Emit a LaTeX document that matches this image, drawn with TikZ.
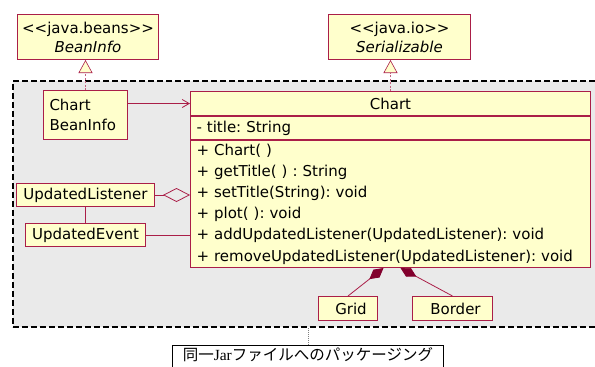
\documentclass[tikz,border=0pt]{standalone}
\usepackage{fontspec}
\newfontfamily\umlfont{DejaVu Sans}
\newfontfamily\jpfont{Noto Sans CJK JP}
\newfontfamily\jarfont{Liberation Serif}
\usetikzlibrary{arrows.meta,calc,positioning}
\frenchspacing

\definecolor{umlred}{RGB}{170,30,72}
\definecolor{umlfill}{RGB}{255,255,204}
\definecolor{umldark}{RGB}{130,0,45}
\definecolor{pkggray}{RGB}{234,234,234}

% stereotype guillemets, kept as two separate < and > signs
\newcommand{\stereo}[1]{<\kern0pt<#1>\kern0pt>}

\tikzset{
  classbox/.style={draw=umlred, line width=1pt, fill=umlfill, anchor=north west,
    inner sep=0pt, font=\umlfont\fontsize{15}{19}\selectfont},
  pkgbox/.style={draw=black, line width=1.6pt, dash pattern=on 6pt off 3pt,
    fill=pkggray, anchor=north west, inner sep=0pt},
  notebox/.style={draw=black, line width=0.8pt, fill=white, anchor=north west,
    inner xsep=6pt, inner ysep=2pt, text height=13.5pt, text depth=15pt,
    font=\jpfont\fontsize{15.5}{18}\selectfont},
  link/.style={draw=umlred, line width=0.8pt},
  realize/.style={draw=umlred!70, line width=0.6pt, dash pattern=on 2pt off 1.5pt,
    -{Triangle[length=13pt,width=14pt,fill=umlfill,color=umlred]}},
  assoc/.style={link, -{Straight Barb[length=7pt,width=8pt]}},
  aggr/.style={link, -{Diamond[length=27pt,width=14pt,open]}},
  compo/.style={link, -{Diamond[length=18pt,width=10pt,fill=umldark,color=umldark]}},
  notelink/.style={draw=gray, line width=0.5pt, dash pattern=on 1pt off 1pt}
}

\begin{document}
\begin{tikzpicture}[x=1pt,y=-1pt]
  \useasboundingbox (0,0) rectangle (595,367);

  % package frame
  \node[pkgbox, minimum width=600pt, minimum height=246pt] (pkg) at (12,80) {};

  % interfaces from outside the jar
  \node[classbox, minimum width=141pt, minimum height=45pt, align=center] (beaninfo) at (17,14)
    {\stereo{java.beans}\\\textit{BeanInfo}};
  \node[classbox, minimum width=142pt, minimum height=45pt, align=center] (serial) at (328,14)
    {\stereo{java.io}\\\textit{Serializable}};

  \node[classbox, minimum width=84pt, minimum height=49pt, text width=72pt,
    inner xsep=6pt, align=left, font=\umlfont\fontsize{15}{20}\selectfont] (cbi) at (43,90)
    {Chart\\BeanInfo};

  % the Chart class, three compartments
  \node[classbox, minimum width=400pt, minimum height=24pt] (chart) at (190,91) {Chart};
  \node[classbox, anchor=north, minimum width=400pt, text width=388pt, inner xsep=6pt,
    minimum height=23pt, align=left] (chartattr) at (chart.south) {- title: String};
  \node[classbox, anchor=north, minimum width=400pt, text width=388pt, inner xsep=6pt,
    minimum height=127pt, align=left, font=\umlfont\fontsize{15}{21.2}\selectfont]
    (chartops) at (chartattr.south)
    {+ Chart( )\\
     + getTitle( ) : String\\
     + setTitle(String): void\\
     + plot( ): void\\
     + addUpdatedListener(UpdatedListener): void\\
     + removeUpdatedListener(UpdatedListener): void};

  \node[classbox, minimum width=138pt, minimum height=23pt] (listener) at (16,183) {UpdatedListener};
  \node[classbox, minimum width=120pt, minimum height=23pt] (event) at (25,223) {UpdatedEvent};
  \node[classbox, minimum width=59pt, minimum height=24pt] (grid) at (318,296) {\hspace{6pt}Grid};
  \node[classbox, minimum width=80pt, minimum height=24pt] (border) at (412,296) {\hspace{6pt}Border};

  \node[notebox, minimum width=271pt, anchor=north west] (note) at (172,345)
    {同一{\jarfont Jar}ファイルへのパッケージング};

  % relations
  \draw[realize] (cbi.north) -- (cbi.north |- beaninfo.south);
  \draw[realize] (chart.north) -- (chart.north |- serial.south);
  \draw[assoc] ([yshift=11.5pt]cbi.east) -- ([yshift=11.5pt]cbi.east -| chart.west);
  \draw[aggr] (listener.east) -- (listener.east -| chartops.west);
  \draw[link] (listener.south) -- (event.north);
  \draw[link] (event.east) -- (event.east -| chartops.west);
  \draw[compo] (grid.north) -- ([xshift=-7pt]chartops.south);
  \draw[compo] (border.north) -- ([xshift=10pt]chartops.south);
  \draw[notelink] (note.north) -- (note.north |- pkg.south);
\end{tikzpicture}
\end{document}
